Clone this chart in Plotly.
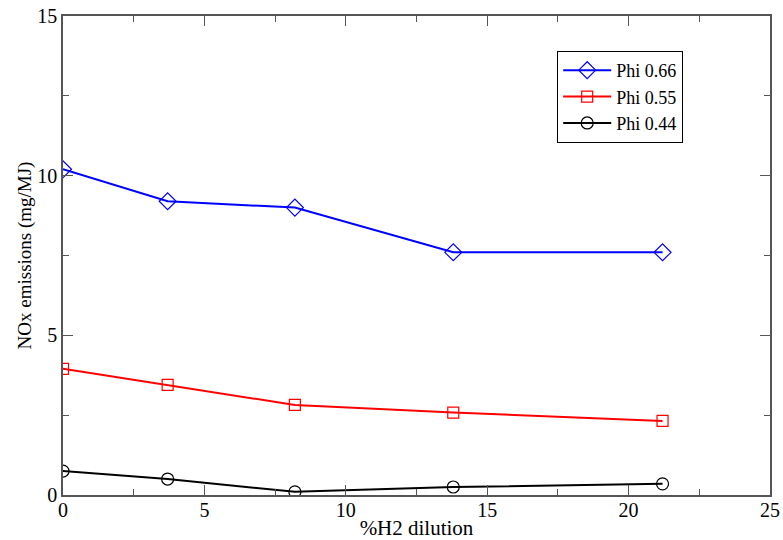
import plotly.graph_objects as go

x_h2 = [0, 3.7, 8.2, 13.8, 21.2]
phi066 = [10.2, 9.2, 9.0, 7.6, 7.6]
phi055 = [3.95, 3.45, 2.82, 2.58, 2.32]
phi044 = [0.75, 0.5, 0.1, 0.25, 0.35]

fig = go.Figure()
series = [
    ("Phi 0.66", phi066, "blue", "diamond-open", 13),
    ("Phi 0.55", phi055, "red", "square-open", 11),
    ("Phi 0.44", phi044, "black", "circle-open", 12),
]
for name, ys, col, sym, sz in series:
    fig.add_trace(go.Scatter(
        x=x_h2, y=ys, name=name, mode="lines+markers",
        line=dict(color=col, width=2),
        marker=dict(symbol=sym, size=sz, color=col, line=dict(width=1.2, color=col)),
    ))

FONT = "Liberation Serif"
axis_common = dict(
    showline=True, linecolor="#555555", linewidth=1.5, mirror="ticks",
    ticks="inside", ticklen=10, tickcolor="#555555", tickwidth=1.2,
    showgrid=False, zeroline=False, automargin=False,
    tickfont=dict(family=FONT, size=20, color="black"),
    minor=dict(ticks="inside", ticklen=6, tickcolor="#555555", tickwidth=1.2, showgrid=False),
)
fig.update_xaxes(range=[0, 25], dtick=5, minor_dtick=2.5, ticklabelstandoff=-4,
                 title=dict(text="%H2 dilution", font=dict(family=FONT, size=21, color="black")),
                 **axis_common)
fig.update_yaxes(range=[0, 15], dtick=5, minor_dtick=2.5,
                 title=dict(text="NOx emissions (mg/MJ)", font=dict(family=FONT, size=19, color="black"), standoff=1),
                 **axis_common)
fig.update_layout(
    width=783, height=540,
    margin=dict(l=63, r=13, t=16, b=45),
    plot_bgcolor="white", paper_bgcolor="white",
    legend=dict(x=0.699, y=0.927, xanchor="left", yanchor="top",
                bordercolor="black", borderwidth=1, bgcolor="white",
                font=dict(family=FONT, size=18, color="black"),
                tracegroupgap=0, itemwidth=48),
)
fig.write_html("out.html", config={"displayModeBar": False},
               post_script="document.body.style.margin='0';document.body.style.overflow='hidden';")
